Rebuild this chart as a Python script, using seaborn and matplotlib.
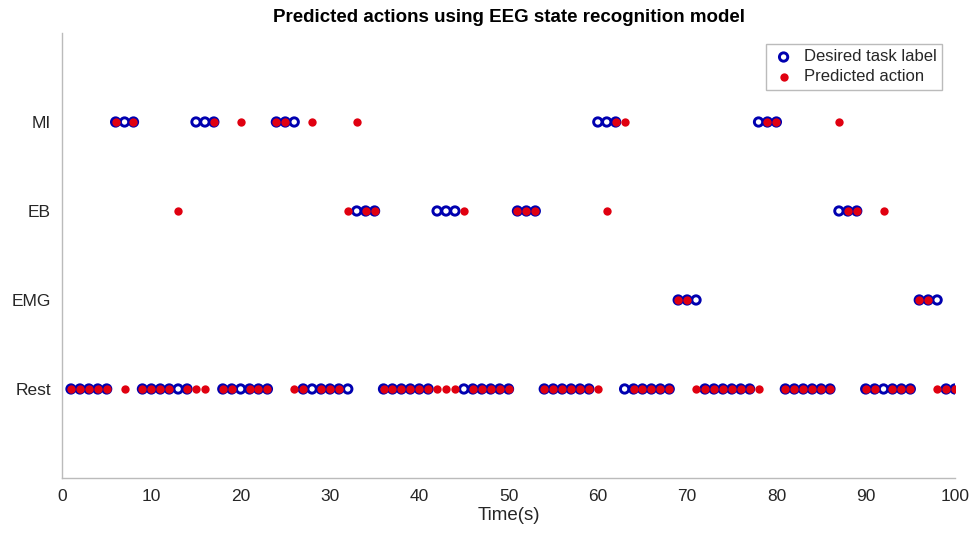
import matplotlib
matplotlib.use("Agg")
import matplotlib.pyplot as plt
import seaborn as sns
import pandas as pd

sns.set_theme(style="white")
plt.rcParams['font.family'] = ['Liberation Sans', 'DejaVu Sans']

categories = ["Rest", "EMG", "EB", "MI"]

time_s = list(range(1, 101))

desired = (["Rest"] * 5 + ["MI"] * 3 + ["Rest"] * 6 + ["MI"] * 3 + ["Rest"] * 6 +
           ["MI"] * 3 + ["Rest"] * 6 + ["EB"] * 3 + ["Rest"] * 6 + ["EB"] * 3 +
           ["Rest"] * 6 + ["EB"] * 3 + ["Rest"] * 6 + ["MI"] * 3 + ["Rest"] * 6 +
           ["EMG"] * 3 + ["Rest"] * 6 + ["MI"] * 3 + ["Rest"] * 6 + ["EB"] * 3 +
           ["Rest"] * 6 + ["EMG"] * 3 + ["Rest"] * 2)

predicted = [
    "Rest", "Rest", "Rest", "Rest", "Rest", "MI", "Rest", "MI", "Rest", "Rest",      # 1-10
    "Rest", "Rest", "EB", "Rest", "Rest", "Rest", "MI", "Rest", "Rest", "MI",        # 11-20
    "Rest", "Rest", "Rest", "MI", "MI", "Rest", "Rest", "MI", "Rest", "Rest",        # 21-30
    "Rest", "EB", "MI", "EB", "EB", "Rest", "Rest", "Rest", "Rest", "Rest",          # 31-40
    "Rest", "Rest", "Rest", "Rest", "EB", "Rest", "Rest", "Rest", "Rest", "Rest",    # 41-50
    "EB", "EB", "EB", "Rest", "Rest", "Rest", "Rest", "Rest", "Rest", "Rest",        # 51-60
    "EB", "MI", "MI", "Rest", "Rest", "Rest", "Rest", "Rest", "EMG", "EMG",          # 61-70
    "Rest", "Rest", "Rest", "Rest", "Rest", "Rest", "Rest", "Rest", "MI", "MI",      # 71-80
    "Rest", "Rest", "Rest", "Rest", "Rest", "Rest", "MI", "EB", "EB", "Rest",        # 81-90
    "Rest", "EB", "Rest", "Rest", "Rest", "EMG", "EMG", "Rest", "Rest", "Rest",      # 91-100
]

code = {c: i + 1 for i, c in enumerate(categories)}
df = pd.DataFrame({
    "Time": time_s,
    "Desired": [code[c] for c in desired],
    "Predicted": [code[c] for c in predicted],
})

fig = plt.figure(figsize=(9.71, 5.41), dpi=100)
ax = fig.add_axes([0.0639, 0.1165, 0.9196, 0.8225])

sns.scatterplot(data=df, x="Time", y="Desired", ax=ax, marker="o", s=36,
                facecolor="none", edgecolor="#0000B0", linewidth=2.1,
                label="Desired task label", zorder=3)
sns.scatterplot(data=df, x="Time", y="Predicted", ax=ax, marker="o", s=36,
                color="#E00010", edgecolor="#E00010", linewidth=0,
                label="Predicted action", zorder=4)

ax.set_xlim(0, 100)
ax.set_ylim(0, 5)
ax.set_xticks(range(0, 101, 10))
ax.set_yticks([code[c] for c in categories])
ax.set_yticklabels(categories)
ax.tick_params(axis="both", direction="in", length=5, width=0.8, colors="#BBBBBB",
               labelcolor="#262626", labelsize=12.5, pad=8)
ax.set_xlabel("Time(s)", fontsize=13.5, color="#262626", labelpad=2)
ax.set_ylabel("")
ax.set_title("Predicted actions using EEG state recognition model",
             fontsize=13.5, fontweight="bold", color="black", pad=8)

for side in ["top", "right"]:
    ax.spines[side].set_visible(False)
for side in ["left", "bottom"]:
    ax.spines[side].set_color("#BBBBBB")
    ax.spines[side].set_linewidth(1.0)

leg = ax.legend(loc="upper right", bbox_to_anchor=(0.995, 0.995), fontsize=12,
                frameon=True, fancybox=False, edgecolor="#AAAAAA",
                handletextpad=0.5, borderpad=0.35, labelspacing=0.3,
                handlelength=1.4)
leg.get_frame().set_linewidth(1.0)

fig.savefig("out.png", dpi=100)
